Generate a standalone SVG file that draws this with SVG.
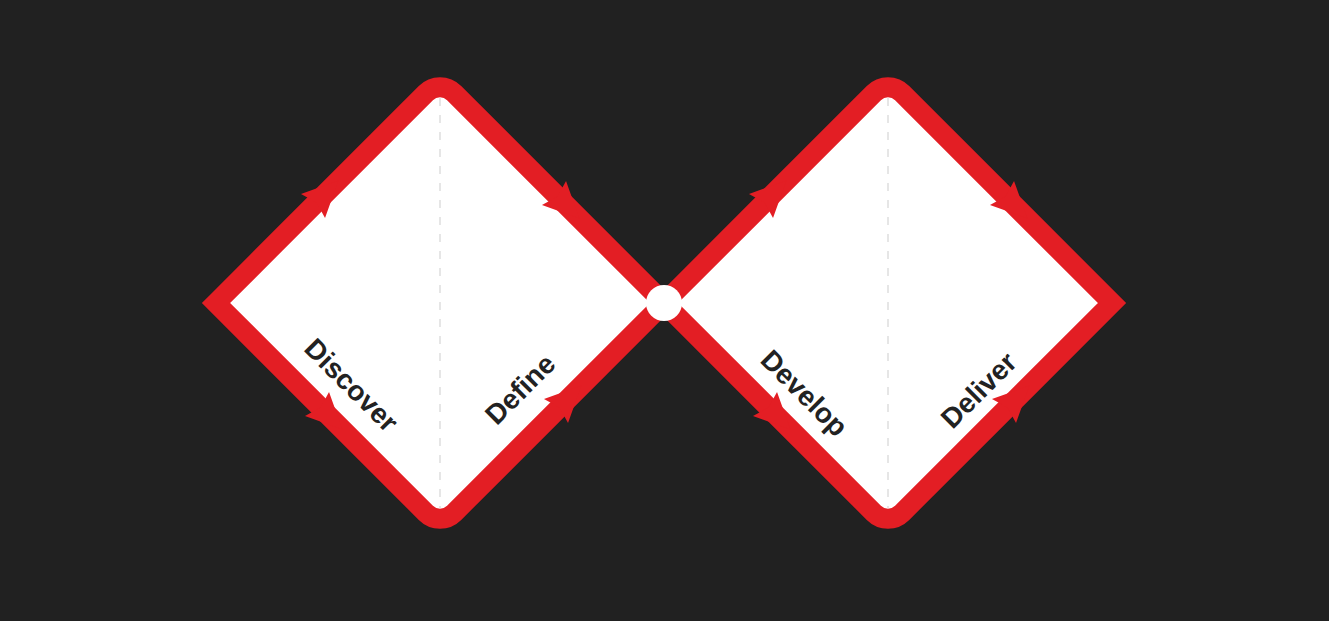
<svg xmlns="http://www.w3.org/2000/svg" width="1329" height="621" viewBox="0 0 1329 621">
<style>
.fill{fill:#ffffff}
.guide{stroke:#e6e6e6;stroke-width:2;stroke-dasharray:8 9;fill:none}
.outline{fill:none;stroke:#e31e24;stroke-width:20;stroke-linejoin:miter;stroke-miterlimit:10}
.arrow{fill:#e31e24}
.label{font-weight:700;font-size:28px;fill:#222222;text-anchor:middle}
</style>
<defs>
<path id="ah" d="M36,0 L0,-17 L5,0 L0,17 Z"/>
</defs>
<rect width="1329" height="621" fill="#212121"/>
<g id="diamond-left">
<path class="fill" d="M216,303 L425.86,93.14 A20,20 0 0 1 454.14,93.14 L664,303 L454.14,512.86 A20,20 0 0 1 425.86,512.86 Z"/>
<line class="guide" x1="440" y1="98" x2="440" y2="508"/>
</g>
<g id="diamond-right">
<path class="fill" d="M664,303 L873.86,93.14 A20,20 0 0 1 902.14,93.14 L1112,303 L902.14,512.86 A20,20 0 0 1 873.86,512.86 Z"/>
<line class="guide" x1="888" y1="98" x2="888" y2="508"/>
</g>
<g id="connectors">
<path class="outline" d="M216,303 L425.86,93.14 A20,20 0 0 1 454.14,93.14 L664,303 L454.14,512.86 A20,20 0 0 1 425.86,512.86 Z"/>
<path class="outline" d="M664,303 L873.86,93.14 A20,20 0 0 1 902.14,93.14 L1112,303 L902.14,512.86 A20,20 0 0 1 873.86,512.86 Z"/>
<use href="#ah" class="arrow" transform="translate(313,206) rotate(-45)"/>
<use href="#ah" class="arrow" transform="translate(554,193) rotate(45)"/>
<use href="#ah" class="arrow" transform="translate(317,404) rotate(45)"/>
<use href="#ah" class="arrow" transform="translate(556,411) rotate(-45)"/>
<use href="#ah" class="arrow" transform="translate(761,206) rotate(-45)"/>
<use href="#ah" class="arrow" transform="translate(1002,193) rotate(45)"/>
<use href="#ah" class="arrow" transform="translate(765,404) rotate(45)"/>
<use href="#ah" class="arrow" transform="translate(1004,411) rotate(-45)"/>
</g>
<g id="junction">
<circle cx="664" cy="303" r="18" fill="#ffffff"/>
</g>
<g id="label-discover"><text class="label" font-family="'Liberation Sans', Arial, sans-serif" transform="translate(351.5,385) rotate(45)" dy="0.35em">Discover</text></g>
<g id="label-define"><text class="label" font-family="'Liberation Sans', Arial, sans-serif" transform="translate(520,389) rotate(-45)" dy="0.35em">Define</text></g>
<g id="label-develop"><text class="label" font-family="'Liberation Sans', Arial, sans-serif" transform="translate(804.5,393) rotate(45)" dy="0.35em">Develop</text></g>
<g id="label-deliver"><text class="label" font-family="'Liberation Sans', Arial, sans-serif" transform="translate(978.5,390) rotate(-45)" dy="0.35em">Deliver</text></g>
</svg>
